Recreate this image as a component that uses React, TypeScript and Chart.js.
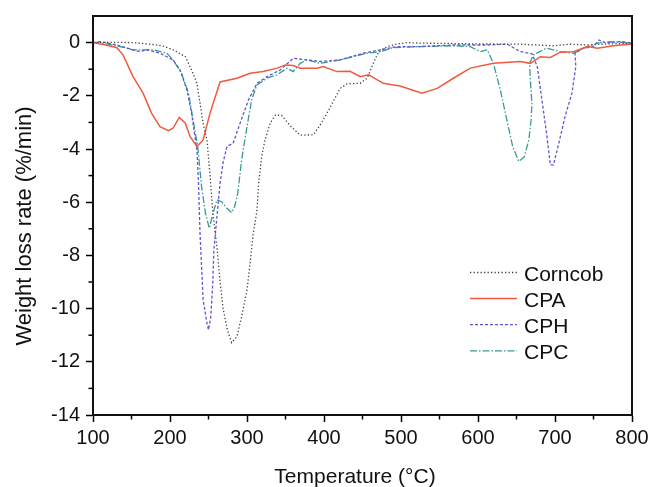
import { useEffect, useRef } from "react";
import { Chart, registerables } from "chart.js";

Chart.register(...registerables);

// ---- data ----
const X_MIN = 100;
const X_MAX = 800;
const Y_MIN = -14;
const Y_MAX = 1;
const xMajorStep = 100;
const yMajorStep = 2;
const seriesNames = ["Corncob", "CPA", "CPH", "CPC"];
const xTitle = "Temperature (°C)";
const yTitle = "Weight loss rate (%/min)";

// [temperature (°C), weight loss rate (%/min)]
const corncob: [number, number][] = [
  [100, 0], [109, 0.01], [130, 0.01], [152, 0], [174, -0.06], [190, -0.12], [204, -0.27],
  [220, -0.53], [228, -1.03], [235, -1.53], [239, -2.28], [243, -3.03], [248, -3.66],
  [252, -5.0], [256, -6.5], [261, -7.7], [265, -9.0], [269, -10.0], [274, -10.75],
  [280, -11.28], [287, -11.05], [293, -10.3], [300, -9.3], [304, -8.3], [308, -7.2],
  [313, -6.3], [315, -5.3], [319, -4.3], [323, -3.7], [330, -3.03], [337, -2.72],
  [345, -2.74], [356, -3.12], [369, -3.48], [386, -3.47], [395, -3.1], [404, -2.65],
  [421, -1.72], [430, -1.55], [447, -1.53], [456, -1.34], [464, -0.78], [471, -0.34],
  [482, -0.15], [495, -0.05], [508, 0], [525, -0.02], [560, -0.03], [600, -0.05],
  [655, -0.06], [698, -0.12], [720, -0.06], [742, -0.09], [770, -0.05], [800, -0.02],
];

const cpa: [number, number][] = [
  [100, 0], [118, -0.1], [131, -0.19], [139, -0.46], [152, -1.28], [165, -1.9],
  [176, -2.65], [187, -3.16], [198, -3.31], [204, -3.22], [212, -2.81], [220, -3.03],
  [226, -3.53], [235, -3.91], [243, -3.66], [252, -2.65], [265, -1.48], [287, -1.34],
  [304, -1.15], [321, -1.09], [339, -0.96], [350, -0.84], [360, -0.86], [369, -0.96],
  [391, -0.96], [399, -0.9], [417, -1.09], [434, -1.08], [447, -1.28], [458, -1.21],
  [477, -1.53], [490, -1.59], [499, -1.63], [527, -1.9], [547, -1.72], [568, -1.34],
  [590, -0.96], [620, -0.78], [655, -0.71], [668, -0.78], [681, -0.53], [694, -0.56],
  [707, -0.36], [724, -0.34], [742, -0.15], [755, -0.21], [776, -0.12], [800, -0.05],
];

const cph: [number, number][] = [
  [100, 0], [109, 0.04], [131, -0.09], [152, -0.27], [161, -0.34], [170, -0.27],
  [187, -0.4], [204, -0.65], [213, -1.03], [222, -1.78], [228, -2.65], [233, -3.66],
  [235, -4.03], [237, -5.29], [239, -7.17], [241, -8.42], [243, -9.67], [248, -10.55],
  [250, -10.8], [253, -10.3], [255.5, -9.05], [257, -7.79], [261, -6.54], [265, -5.29],
  [269, -4.5], [274, -3.91], [282, -3.78], [291, -3.03], [302, -2.15], [313, -1.53],
  [326, -1.28], [343, -1.03], [360, -0.59], [378, -0.65], [395, -0.71], [421, -0.65],
  [451, -0.4], [473, -0.27], [495, -0.15], [525, -0.15], [568, -0.09], [612, -0.09],
  [638, -0.06], [655, -0.34], [670, -0.42], [677, -0.9], [683, -2.15], [689, -3.41],
  [694, -4.6], [698, -4.6], [705, -3.78], [713, -2.78], [722, -1.9], [727, -0.9],
  [726, -0.4], [737, -0.21], [750, -0.15], [757, 0.1], [766, -0.02], [785, 0.04], [800, -0.02],
];

const cpc: [number, number][] = [
  [100, 0], [118, -0.05], [135, -0.15], [152, -0.27], [178, -0.27], [196, -0.4],
  [204, -0.65], [215, -1.15], [224, -1.9], [230, -2.91], [236, -3.91], [241, -5.41],
  [246, -6.41], [251, -6.98], [256, -6.41], [261, -5.91], [267, -5.98], [273, -6.2],
  [280, -6.39], [284, -6.16], [288, -5.66], [293, -4.41], [300, -3.16], [306, -2.15],
  [313, -1.59], [326, -1.34], [339, -1.21], [352, -0.96], [360, -1.09], [369, -0.78],
  [378, -0.65], [395, -0.78], [421, -0.65], [456, -0.4], [473, -0.34], [490, -0.19],
  [525, -0.15], [568, -0.12], [590, -0.15], [603, -0.34], [612, -0.27], [620, -0.78],
  [629, -1.78], [637, -2.84], [645, -3.9], [653, -4.47], [660, -4.3], [666, -3.66],
  [669, -2.9], [670, -2.3], [668, -1.4], [667, -0.78], [672, -0.46], [689, -0.21],
  [707, -0.34], [724, -0.4], [742, -0.15], [755, -0.02], [772, 0.04], [800, -0.02],
];

const seriesData = [corncob, cpa, cph, cpc];
const seriesColors = ["#444444", "#f05a40", "#5a5ad0", "#3a9a92"];
const seriesDash: number[][] = [[1.3, 2.2], [], [3, 2], [7, 2, 1.5, 2]];
const seriesWidth = [1.3, 1.5, 1.3, 1.3];

const FONT = '"Liberation Sans", Arial, Helvetica, sans-serif';

const decorPlugin = {
  id: "decor",
  afterDraw(chart: any) {
    const ctx: CanvasRenderingContext2D = chart.ctx;
    const area = chart.chartArea;
    const xs = chart.scales.x;
    const ys = chart.scales.y;
    ctx.save();
    // minor ticks
    ctx.strokeStyle = "#000";
    ctx.lineWidth = 1.5;
    ctx.setLineDash([]);
    for (let v = X_MIN + xMajorStep / 2; v < X_MAX; v += xMajorStep) {
      const px = xs.getPixelForValue(v);
      ctx.beginPath();
      ctx.moveTo(px, area.bottom);
      ctx.lineTo(px, area.bottom + 4.5);
      ctx.stroke();
    }
    for (let v = Y_MIN + yMajorStep / 2; v < 0; v += yMajorStep) {
      const py = ys.getPixelForValue(v);
      ctx.beginPath();
      ctx.moveTo(area.left, py);
      ctx.lineTo(area.left - 4.5, py);
      ctx.stroke();
    }
    // frame
    ctx.lineWidth = 2;
    ctx.strokeStyle = "#111";
    ctx.strokeRect(area.left, area.top, area.right - area.left, area.bottom - area.top);

    // axis titles
    ctx.fillStyle = "#111";
    ctx.font = `21px ${FONT}`;
    ctx.textAlign = "center";
    ctx.textBaseline = "alphabetic";
    ctx.fillText(xTitle, 355, 483);
    ctx.save();
    ctx.font = `22px ${FONT}`;
    ctx.translate(31, 226);
    ctx.rotate(-Math.PI / 2);
    ctx.fillText(yTitle, 0, 0);
    ctx.restore();

    // legend
    const lx0 = area.right - 162;
    const lx1 = area.right - 115;
    const tx = area.right - 108;
    seriesNames.forEach((name, i) => {
      const ly = area.bottom - 142.5 + i * 26.1;
      ctx.beginPath();
      ctx.strokeStyle = seriesColors[i];
      ctx.lineWidth = seriesWidth[i];
      ctx.setLineDash(seriesDash[i]);
      ctx.moveTo(lx0, ly);
      ctx.lineTo(lx1, ly);
      ctx.stroke();
      ctx.setLineDash([]);
      ctx.fillStyle = "#111";
      ctx.font = `21px ${FONT}`;
      ctx.textAlign = "left";
      ctx.textBaseline = "alphabetic";
      ctx.fillText(name, tx, ly + 8);
    });
    ctx.restore();
  },
};

export default function App() {
  const ref = useRef<HTMLCanvasElement>(null);
  useEffect(() => {
    const canvas = ref.current;
    if (!canvas) return;
    const chart = new Chart(canvas, {
      type: "line",
      data: {
        datasets: seriesNames.map((name, i) => ({
          label: name,
          data: seriesData[i].map(([x, y]) => ({ x, y })),
          borderColor: seriesColors[i],
          borderWidth: seriesWidth[i],
          borderDash: seriesDash[i],
          pointRadius: 0,
          tension: 0,
          fill: false,
        })),
      },
      options: {
        responsive: false,
        animation: false,
        devicePixelRatio: 1,
        layout: { padding: { left: 0, right: 17, top: 16, bottom: 0 } },
        plugins: { legend: { display: false }, tooltip: { enabled: false } },
        scales: {
          x: {
            type: "linear",
            min: X_MIN,
            max: X_MAX,
            afterFit: (s: any) => {
              s.height = 72;
              s.paddingLeft = 0;
              s.paddingRight = 0;
            },
            ticks: {
              stepSize: xMajorStep / 2,
              autoSkip: false,
              maxRotation: 0,
              padding: 4,
              color: "#111",
              font: { family: FONT, size: 20 },
              callback: (v: any) => (Number(v) % xMajorStep === 0 ? String(v) : ""),
            },
            grid: {
              display: true,
              drawOnChartArea: false,
              drawTicks: true,
              tickLength: 7,
              tickWidth: 1.5,
              tickColor: (c: any) => (c.tick && c.tick.value % xMajorStep === 0 ? "#000" : "rgba(0,0,0,0)"),
            },
            border: { display: true, color: "#111", width: 2 },
          },
          y: {
            type: "linear",
            min: Y_MIN,
            max: Y_MAX,
            afterFit: (s: any) => {
              s.width = 93;
              s.paddingTop = 0;
              s.paddingBottom = 0;
            },
            ticks: {
              stepSize: 1,
              autoSkip: false,
              padding: 6,
              color: "#111",
              font: { family: FONT, size: 20 },
              callback: (v: any) => {
                const n = Number(v);
                return n % yMajorStep === 0 && n <= 0 ? String(n) : "";
              },
            },
            grid: {
              display: true,
              drawOnChartArea: false,
              drawTicks: true,
              tickLength: 7,
              tickWidth: 1.5,
              tickColor: (c: any) =>
                c.tick && c.tick.value % yMajorStep === 0 && c.tick.value <= 0 ? "#000" : "rgba(0,0,0,0)",
            },
            border: { display: true, color: "#111", width: 2 },
          },
        },
      },
      plugins: [decorPlugin],
    } as any);
    return () => chart.destroy();
  }, []);
  return (
    <div style={{ position: "absolute", left: 0, top: 0, width: 649, height: 487 }}>
      <canvas ref={ref} width={649} height={487} style={{ display: "block", width: 649, height: 487 }} />
    </div>
  );
}
